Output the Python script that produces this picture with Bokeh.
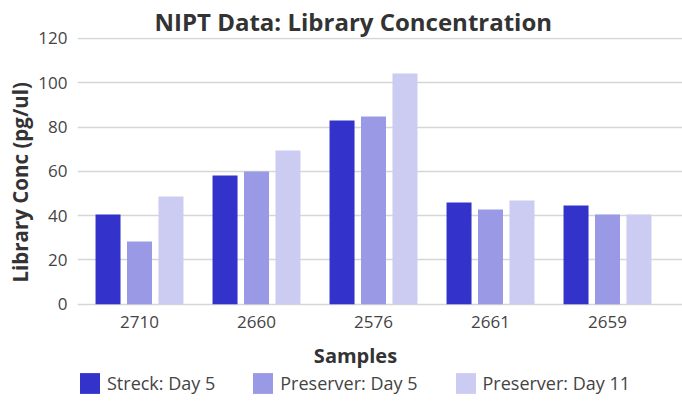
import numpy as np
from bokeh.plotting import figure
from bokeh.models import (Range1d, FixedTicker, Title, Label, Legend, LegendItem)
from bokeh.core.properties import value
from bokeh.embed import file_html
from bokeh.resources import INLINE

# ---- data ----
samples = ["2710", "2660", "2576", "2661", "2659"]
streck_day5 = [40.5, 58.1, 82.9, 45.9, 44.6]
preserver_day5 = [28.3, 59.9, 84.7, 42.8, 40.5]
preserver_day11 = [48.6, 69.4, 104.2, 46.8, 40.5]
series_names = ["Streck: Day 5", "Preserver: Day 5", "Preserver: Day 11"]
series_colors = ["#3333CC", "#9999E6", "#CCCCF2"]
y_ticks = [0, 20, 40, 60, 80, 100, 120]

FONT = "Open Sans"
TXT = "#444444"
DARK = "#333333"

idx = np.arange(len(samples))

# the frame runs to the bottom of the page so that the category labels,
# the x-axis title and the legend (drawn inside the frame) are not clipped
p = figure(frame_width=605, frame_height=364,
           min_border_left=77, min_border_right=0,
           min_border_top=37, min_border_bottom=0,
           x_range=Range1d(-0.53, 4.641), y_range=Range1d(-43.93, 120.41),
           output_backend="svg", toolbar_location=None)

renderers = []
offsets = [-0.269, 0.0, 0.269]
for vals, off, col in zip([streck_day5, preserver_day5, preserver_day11],
                          offsets, series_colors):
    r = p.vbar(x=idx + off, top=vals, bottom=0, width=0.2137,
               fill_color=col, line_color=None)
    renderers.append(r)

# category labels under each group
p.text(x=idx, y=np.zeros(len(samples)), text=samples, y_offset=18,
       text_font=value(FONT), text_font_size="17px", text_color=TXT,
       text_align="center", text_baseline="middle")

# axes
p.xaxis.visible = False
p.yaxis.ticker = FixedTicker(ticks=y_ticks)
ax = p.yaxis[0]
ax.axis_line_color = None
ax.major_tick_line_color = None
ax.minor_tick_line_color = None
ax.major_tick_out = 0
ax.major_tick_in = 0
ax.major_label_text_font = FONT
ax.major_label_text_font_size = "17px"
ax.major_label_text_color = TXT
ax.major_label_standoff = 10

p.xgrid.grid_line_color = None
p.ygrid.grid_line_color = "#d6d6d6"
p.ygrid.grid_line_width = 1.5
p.outline_line_color = None

# title
p.title = Title(text="NIPT Data: Library Concentration", align="left",
                offset=77, text_font=FONT, text_font_style="bold",
                text_font_size="24px", text_color=DARK, standoff=0)

# y label as a title in the left panel
p.add_layout(Title(text="Library Conc (pg/ul)", align="left", offset=119,
                   text_font=FONT, text_font_style="bold",
                   text_font_size="20.5px", text_color=DARK, standoff=4),
             "left")

# x label
p.add_layout(Label(x=278, y=46, x_units="screen", y_units="screen",
                   text="Samples", text_font=FONT, text_font_style="bold",
                   text_font_size="20px", text_color=DARK,
                   text_align="center", text_baseline="middle"))

legend = Legend(items=[LegendItem(label=n, renderers=[r])
                       for n, r in zip(series_names, renderers)],
                orientation="horizontal", location=(0, 5),
                glyph_width=25, glyph_height=26, label_height=26,
                label_standoff=5, spacing=35, padding=0, margin=0,
                border_line_color=None, background_fill_alpha=0,
                label_text_font=FONT, label_text_font_size="18px",
                label_text_color=TXT)
p.add_layout(legend, "center")

open("out.html", "w").write(file_html(p, INLINE))
